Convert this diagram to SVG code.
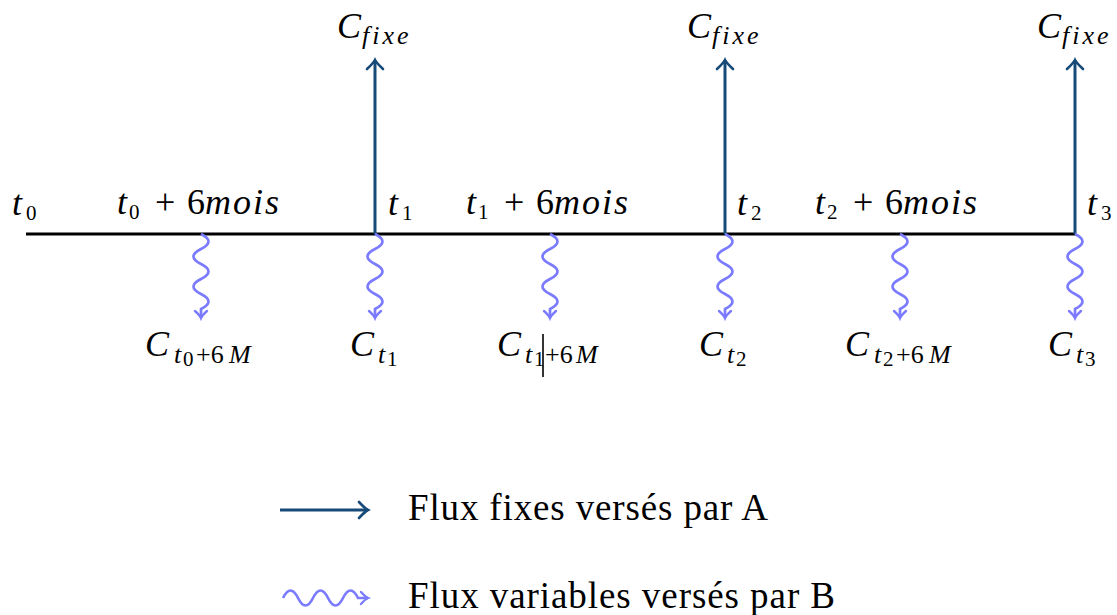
<svg xmlns="http://www.w3.org/2000/svg" width="1117" height="615" viewBox="0 0 1117 615">
<style>
.math{font-family:"Liberation Serif","DejaVu Serif",serif;font-style:italic;font-size:36px;fill:#000}
.rm{font-style:normal}
.sub{font-size:26px}
.fx{font-size:26px;letter-spacing:3px}
.ss{font-size:21px;font-style:normal}
.legend{font-family:"Liberation Serif","DejaVu Serif",serif;font-size:37px;fill:#000}
.axis{stroke:#000;stroke-width:3;fill:none}
.fix{stroke:#164a78;stroke-width:3;fill:none;marker-end:url(#headFix)}
.var{stroke:#7b7bff;stroke-width:2.7;fill:none;marker-end:url(#headVar)}
</style>
<defs>
<marker id="headFix" markerUnits="userSpaceOnUse" viewBox="-12 -10 14 20" refX="0" refY="0" markerWidth="14" markerHeight="20" orient="auto" overflow="visible">
<path d="M -9,-8 Q -3,-1.5 0,0 Q -3,1.5 -9,8" fill="none" stroke="#164a78" stroke-width="2.6" stroke-linecap="round"/>
</marker>
<marker id="headVar" markerUnits="userSpaceOnUse" viewBox="-12 -10 14 20" refX="0" refY="0" markerWidth="14" markerHeight="20" orient="auto" overflow="visible">
<path d="M -7,-6 Q -2.5,-1 0,0 Q -2.5,1 -7,6" fill="none" stroke="#7b7bff" stroke-width="2.4" stroke-linecap="round"/>
</marker>
</defs>

<g id="connectors">
<line class="axis" x1="26" y1="234" x2="1076" y2="234"/>
<line class="fix" x1="375" y1="234" x2="375" y2="60"/>
<line class="fix" x1="725" y1="234" x2="725" y2="60"/>
<line class="fix" x1="1075" y1="234" x2="1075" y2="60"/>
<path class="var" d="M 201,234 q 15,7.5 0,15 t 0,15 t 0,15 t 0,15 t 0,15 l 0,9"/>
<path class="var" d="M 375,234 q 15,7.5 0,15 t 0,15 t 0,15 t 0,15 t 0,15 l 0,9"/>
<path class="var" d="M 550,234 q 15,7.5 0,15 t 0,15 t 0,15 t 0,15 t 0,15 l 0,9"/>
<path class="var" d="M 725,234 q 15,7.5 0,15 t 0,15 t 0,15 t 0,15 t 0,15 l 0,9"/>
<path class="var" d="M 900,234 q 15,7.5 0,15 t 0,15 t 0,15 t 0,15 t 0,15 l 0,9"/>
<path class="var" d="M 1075,234 q 15,7.5 0,15 t 0,15 t 0,15 t 0,15 t 0,15 l 0,9"/>
</g>

<g id="time-labels">
<text class="math" x="12" y="215">t<tspan class="ss" x="26" dy="5">0</tspan></text>
<text class="math" x="388" y="215">t<tspan class="ss" x="402" dy="5">1</tspan></text>
<text class="math" x="737" y="215">t<tspan class="ss" x="751" dy="5">2</tspan></text>
<text class="math" x="1087" y="215">t<tspan class="ss" x="1101" dy="5">3</tspan></text>
<text class="math" x="117" y="214">t<tspan class="ss" x="129" dy="5">0</tspan><tspan class="rm" x="155" dy="-5">+</tspan><tspan class="rm" x="187">6</tspan><tspan letter-spacing="2">mois</tspan></text>
<text class="math" x="466" y="214">t<tspan class="ss" x="478" dy="5">1</tspan><tspan class="rm" x="504" dy="-5">+</tspan><tspan class="rm" x="536">6</tspan><tspan letter-spacing="2">mois</tspan></text>
<text class="math" x="815" y="214">t<tspan class="ss" x="827" dy="5">2</tspan><tspan class="rm" x="853" dy="-5">+</tspan><tspan class="rm" x="885">6</tspan><tspan letter-spacing="2">mois</tspan></text>
</g>

<g id="fixed-labels">
<text class="math" x="337" y="38">C<tspan class="fx" x="362" dy="6">fixe</tspan></text>
<text class="math" x="687" y="38">C<tspan class="fx" x="712" dy="6">fixe</tspan></text>
<text class="math" x="1037" y="38">C<tspan class="fx" x="1062" dy="6">fixe</tspan></text>
</g>

<g id="variable-labels">
<text class="math" x="145" y="356">C<tspan class="sub" x="174" dy="7">t</tspan><tspan class="ss" x="183" dy="3">0</tspan><tspan class="sub rm" x="196" dy="-3">+6</tspan><tspan class="sub" x="229">M</tspan></text>
<text class="math" x="350" y="356">C<tspan class="sub" x="378" dy="7">t</tspan><tspan class="ss" x="387" dy="3">1</tspan></text>
<text class="math" x="497" y="356">C<tspan class="sub" x="525" dy="7">t</tspan><tspan class="ss" x="534" dy="3">1</tspan><tspan class="sub rm" x="545" dy="-3">+6</tspan><tspan class="sub" x="576">M</tspan></text>
<line x1="543" y1="334" x2="543" y2="377" stroke="#000" stroke-width="1.6"/>
<text class="math" x="699" y="356">C<tspan class="sub" x="727" dy="7">t</tspan><tspan class="ss" x="736" dy="3">2</tspan></text>
<text class="math" x="845" y="356">C<tspan class="sub" x="874" dy="7">t</tspan><tspan class="ss" x="883" dy="3">2</tspan><tspan class="sub rm" x="896" dy="-3">+6</tspan><tspan class="sub" x="929">M</tspan></text>
<text class="math" x="1048" y="356">C<tspan class="sub" x="1076" dy="7">t</tspan><tspan class="ss" x="1085" dy="3">3</tspan></text>
</g>

<g id="legend">
<line class="fix" x1="280" y1="510" x2="368" y2="510"/>
<path class="var" d="M 283,598 q 7.5,-15 15,0 t 15,0 t 15,0 t 15,0 t 15,0 l 10,0"/>
<text class="legend" x="408" y="520" textLength="360" lengthAdjust="spacing">Flux fixes versés par A</text>
<text class="legend" x="408" y="608" textLength="427" lengthAdjust="spacing">Flux variables versés par B</text>
</g>
</svg>
